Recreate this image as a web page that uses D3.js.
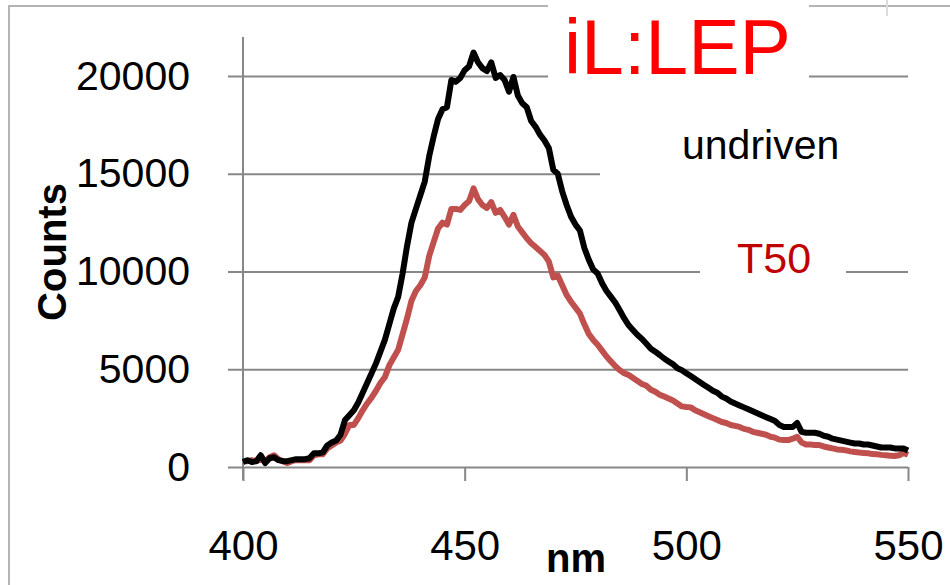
<!DOCTYPE html>
<html>
<head>
<meta charset="utf-8">
<script src="https://cdn.jsdelivr.net/npm/d3@7"></script>
<style>
	body { margin: 0; background: #fff; }
	svg { display: block; font-family: "Liberation Sans", Arial, sans-serif; }
</style>
</head>
<body>
<svg id="chart" width="950" height="585"></svg>
<script>
// wavelength (nm), 1 nm steps
const nm = d3.range(400, 551);
const undriven = [
	250, 350, 250, 300, 600, 200, 450, 500, 350, 300,
	300, 350, 400, 400, 400, 450, 700, 700, 750, 1100,
	1250, 1350, 1650, 2400, 2650, 2900, 3300, 3800, 4300, 4800,
	5300, 5900, 6500, 7300, 8100, 8700, 9900, 11300, 12500, 13200,
	13900, 14600, 15900, 16900, 17800, 18300, 18400, 19800, 19700, 19900,
	20300, 20500, 21200, 20700, 20400, 20250, 20700, 19900, 20050, 19800,
	19200, 19950, 19000, 18600, 18400, 17700, 17400, 17000, 16700, 16300,
	15200, 15000, 14100, 13400, 12800, 12400, 12100, 11200, 10600, 10100,
	9900, 9400, 9000, 8700, 8400, 8000, 7600, 7250, 7000, 6750,
	6550, 6300, 6050, 5900, 5730, 5550, 5400, 5250, 5050, 4950,
	4800, 4650, 4500, 4350, 4200, 4050, 3900, 3800, 3600, 3500,
	3350, 3250, 3150, 3050, 2950, 2850, 2750, 2650, 2550, 2450,
	2350, 2150, 2050, 2050, 2050, 2250, 1800, 1750, 1750, 1750,
	1700, 1600, 1550, 1450, 1400, 1350, 1300, 1250, 1200, 1200,
	1150, 1150, 1100, 1050, 1000, 1000, 1000, 950, 950, 950,
	850
];
const t50 = [
	300, 300, 350, 300, 400, 300, 500, 600, 400, 300,
	200, 300, 350, 350, 350, 350, 600, 650, 650, 950,
	1100, 1250, 1350, 1700, 2150, 2150, 2500, 2900, 3250, 3550,
	3900, 4300, 4600, 5200, 5600, 6000, 6800, 7600, 8500, 9000,
	9300, 9700, 10800, 11500, 12200, 12500, 12400, 13200, 13200, 13150,
	13400, 13600, 14250, 13700, 13400, 13250, 13550, 13000, 13150, 12800,
	12400, 12900, 12300, 12000, 11700, 11450, 11250, 11050, 10850, 10500,
	9700, 9800, 9300, 8800, 8450, 8150, 7850, 7300, 6800, 6500,
	6250, 5950, 5650, 5400, 5150, 4950, 4800, 4700, 4550, 4400,
	4250, 4150, 3950, 3850, 3700, 3600, 3500, 3400, 3250, 3100,
	3070, 3050, 2900, 2800, 2700, 2600, 2500, 2400, 2300, 2250,
	2150, 2100, 2050, 1950, 1900, 1800, 1750, 1700, 1650, 1550,
	1500, 1400, 1380, 1380, 1450, 1550, 1250, 1150, 1150, 1130,
	1120, 1050, 1000, 950, 900, 880, 850, 800, 770, 740,
	720, 700, 660, 650, 620, 600, 580, 560, 600, 720,
	620
];
const xTicks = [400, 450, 500, 550];
const yTicks = [0, 5000, 10000, 15000, 20000];

const chart = d3.select("#chart");
const gridColor = "#878787";

const x = d3.scaleLinear().domain([400, 550]).range([243, 908]);
const y = d3.scaleLinear().domain([0, 20000]).range([467, 76]);

// outer frame bits
const frame = chart.append("g")
	.attr("stroke", "#b4b4b4")
	.attr("stroke-width", 2);
frame.append("line").attr("x1", 8).attr("y1", 6).attr("x2", 950).attr("y2", 6);
frame.append("line").attr("x1", 9).attr("y1", 6).attr("x2", 9).attr("y2", 585);
frame.append("line").attr("x1", 887).attr("y1", 0).attr("x2", 887).attr("y2", 16)
	.attr("stroke", "#dcdcdc");

// y axis with gridlines
const yAxis = chart.append("g")
	.attr("transform", "translate(228,0)")
	.call(d3.axisLeft(y).tickValues(yTicks).tickSize(-(908 - 228)).tickPadding(38).tickFormat(d3.format("d")));
yAxis.select(".domain").remove();
yAxis.selectAll("line").attr("stroke", gridColor).attr("stroke-width", 2);
yAxis.selectAll("text").attr("font-size", 41).attr("fill", "#000")
	.attr("font-family", "Liberation Sans, Arial, sans-serif");

// x axis ticks
const xAxis = chart.append("g")
	.attr("transform", "translate(0," + y(0) + ")")
	.call(d3.axisBottom(x).tickValues(xTicks).tickSize(14).tickPadding(49));
xAxis.select(".domain").remove();
xAxis.selectAll("line").attr("stroke", gridColor).attr("stroke-width", 2);
xAxis.selectAll("text").attr("font-size", 42).attr("fill", "#000")
	.attr("font-family", "Liberation Sans, Arial, sans-serif");

chart.append("line")
	.attr("x1", x(400)).attr("y1", 37)
	.attr("x2", x(400)).attr("y2", y(0) + 13)
	.attr("stroke", gridColor)
	.attr("stroke-width", 2);

// white text boxes that sit over the grid
const boxes = [[548, 0, 261, 92], [600, 108, 312, 84], [700, 232, 146, 58]];
chart.append("g").selectAll("rect")
	.data(boxes)
	.enter()
	.append("rect")
	.attr("x", d => d[0]).attr("y", d => d[1])
	.attr("width", d => d[2]).attr("height", d => d[3])
	.attr("fill", "#fff");

// series
const line = d3.line()
	.x((d, i) => x(nm[i]))
	.y(d => y(d));

chart.append("path")
	.datum(t50)
	.attr("d", line)
	.attr("fill", "none")
	.attr("stroke", "#c0504d")
	.attr("stroke-width", 6)
	.attr("stroke-linejoin", "round");

chart.append("path")
	.datum(undriven)
	.attr("d", line)
	.attr("fill", "none")
	.attr("stroke", "#000")
	.attr("stroke-width", 6)
	.attr("stroke-linejoin", "round");

// labels
chart.append("text")
	.text("iL:LEP")
	.attr("x", 564).attr("y", 74)
	.attr("font-size", 77)
	.attr("fill", "#ff0000");

chart.append("text")
	.text("undriven")
	.attr("x", 682).attr("y", 159)
	.attr("font-size", 41)
	.attr("fill", "#000");

chart.append("text")
	.text("T50")
	.attr("x", 737).attr("y", 273)
	.attr("font-size", 43)
	.attr("fill", "#c00000");

chart.append("text")
	.text("nm")
	.attr("x", 576).attr("y", 572)
	.attr("text-anchor", "middle")
	.attr("font-size", 40)
	.attr("font-weight", "bold");

chart.append("text")
	.text("Counts")
	.attr("transform", "translate(66,252) rotate(-90)")
	.attr("text-anchor", "middle")
	.attr("font-size", 40)
	.attr("font-weight", "bold");
</script>
</body>
</html>
